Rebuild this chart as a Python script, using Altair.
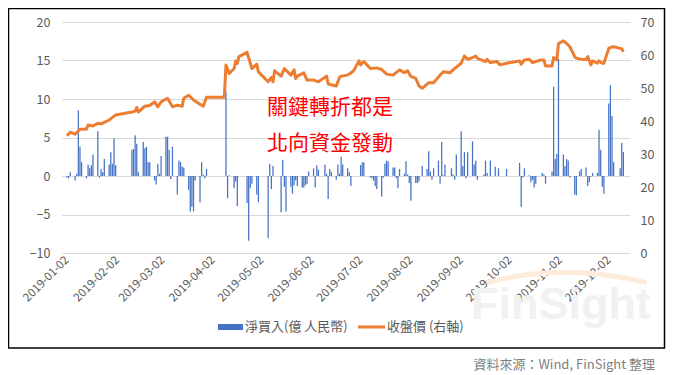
import altair as alt
import pandas as pd

# ---------------- data ----------------
bar_dates = [
    "01-02", "01-03", "01-04", "01-07", "01-08", "01-09", "01-10", "01-11", "01-14", "01-15",
    "01-16", "01-17", "01-18", "01-21", "01-22", "01-23", "01-24", "01-25", "01-28", "01-29",
    "01-30", "01-31", "02-01", "02-11", "02-12", "02-13", "02-14", "02-15", "02-18", "02-19",
    "02-20", "02-21", "02-22", "02-25", "02-26", "02-27", "02-28", "03-01", "03-04", "03-05",
    "03-06", "03-07", "03-08", "03-11", "03-12", "03-13", "03-14", "03-15", "03-18", "03-19",
    "03-20", "03-21", "03-22", "03-25", "03-26", "03-27", "03-28", "03-29",
    "04-10", "04-11", "04-12", "04-15", "04-16", "04-17", "04-23", "04-24", "04-25", "04-26",
    "04-29", "04-30", "05-06", "05-07", "05-08", "05-09", "05-14", "05-15", "05-16", "05-17",
    "05-20", "05-21", "05-22", "05-23", "05-24", "05-27", "05-28", "05-29", "05-30", "05-31",
    "06-03", "06-04", "06-05", "06-06", "06-10", "06-11", "06-12", "06-13", "06-14", "06-17",
    "06-18", "06-19", "06-20", "06-21", "06-24", "06-25", "06-26",
    "07-02", "07-03", "07-04", "07-08", "07-09", "07-10", "07-11", "07-12", "07-15", "07-16",
    "07-17", "07-18", "07-19", "07-22", "07-23", "07-24", "07-25", "07-26", "07-29", "07-30",
    "07-31", "08-01", "08-02", "08-05", "08-06", "08-07", "08-09", "08-12", "08-13", "08-14",
    "08-15", "08-16", "08-19", "08-20", "08-21", "08-22", "08-23", "08-27", "08-28", "08-29",
    "08-30", "09-02", "09-03", "09-04", "09-05", "09-06", "09-09", "09-10", "09-11", "09-12",
    "09-16", "09-17", "09-18", "09-20", "09-23", "09-25", "09-30",
    "10-08", "10-09", "10-10", "10-11", "10-14", "10-15", "10-16", "10-17", "10-18", "10-22",
    "10-23", "10-24", "10-28", "10-29", "10-30", "10-31", "11-01", "11-04", "11-05", "11-06",
    "11-07", "11-08", "11-11", "11-12", "11-14", "11-15", "11-18", "11-19", "11-20", "11-21",
    "11-22", "11-25", "11-26", "11-27", "11-28", "11-29", "12-02", "12-03", "12-04", "12-05",
    "12-09", "12-10", "12-11",
]
bar_values = [
    -0.2, -0.3, 0.5, -0.6, 0.3, 8.5, 3.8, 1.8, -0.3, 1.5,
    1.0, 1.4, 2.8, 5.8, -0.2, 0.9, 0.5, 2.2, 1.5, 3.1,
    1.6, 4.9, 1.4, 3.4, 3.5, 5.3, 4.2, 0.5, 4.4, 3.6,
    3.8, 1.8, 1.8, -0.6, -1.1, 1.6, 0.3, 2.6, 5.1, 5.1,
    3.4, -0.4, 3.8, -2.4, 2.0, 1.8, 1.2, 1.1, -1.8, -4.6,
    -4.0, -4.6, -0.6, -3.4, 1.8, 0.2, -0.3, 0.9,
    11.0, -2.9, 0.1, -1.6, -0.7, -3.9, -3.5, -8.4, -1.6, -1.0,
    -2.4, -3.4, -8.1, 1.6, -1.7, 1.3, -4.7, 2.1, -1.4, -4.6,
    -1.4, -2.3, -1.2, -0.6, -1.3, -1.5, -1.5, -1.2, -1.0, 0.6,
    1.0, -1.5, 1.4, 0.8, 1.5, 0.3, -3.0, 0.9, 0.5, -0.5,
    1.5, 0.3, 2.5, 1.5, 1.0, 0.5, -1.3,
    1.4, 1.8, 1.8, -0.2, -0.3, -0.6, -1.3, -1.7, -2.7, -0.2,
    1.6, 2.0, 1.9, 1.1, 1.1, -0.3, -1.6, 0.9, 0.3, 1.9,
    0.2, -0.9, -3.2, -0.9, -0.9, -0.7, 1.3, 0.9, 3.2, 0.6,
    -0.5, 1.0, 2.0, -1.0, 4.4, 0.1, 1.5, 1.0, 0.2, -0.5,
    2.8, 5.8, 1.3, 3.1, -0.3, 3.1, 4.5, 1.5, 2.0, -0.5,
    0.2, 2.0, 0.4, 2.0, 1.2, 1.0, 0.9,
    1.7, -4.0, -0.2, 1.0, 0.1, -0.8, -0.5, -1.5, -1.0, 0.4,
    0.2, -1.0, 0.6, 11.6, 2.2, 2.9, 15.2, 2.8, 1.3, 2.2,
    2.0, -0.2, -2.4, -2.5, 0.6, 0.9, 1.1, -1.3, -0.8, -0.1,
    0.4, 0.4, 6.0, 3.4, -1.4, -2.3, 9.4, 11.8, 7.8, 1.8,
    1.0, 4.3, 3.1,
]

price_dates = [
    "01-02", "01-04", "01-07", "01-10", "01-14", "01-15", "01-18", "01-21", "01-23", "01-28",
    "01-30", "02-01", "02-11", "02-13", "02-14", "02-15", "02-19", "02-22", "02-25", "02-27",
    "03-01", "03-05", "03-08", "03-11", "03-14", "03-15", "03-18", "03-21", "03-25", "03-27",
    "03-29", "04-09", "04-10", "04-12", "04-15", "04-16", "04-17", "04-18", "04-23", "04-26",
    "04-29", "04-30", "05-06", "05-08", "05-09", "05-10", "05-14", "05-16", "05-20", "05-22",
    "05-23", "05-24", "05-28", "05-30", "06-03", "06-06", "06-11", "06-12", "06-14", "06-17",
    "06-19", "06-20", "06-24", "06-27", "06-28", "07-01", "07-02", "07-04", "07-08", "07-12",
    "07-15", "07-18", "07-22", "07-26", "07-29", "07-31", "08-02", "08-05", "08-07", "08-09",
    "08-13", "08-16", "08-20", "08-22", "08-26", "08-28", "09-02", "09-04", "09-06", "09-09",
    "09-11", "09-12", "09-17", "09-18", "09-20", "09-24", "09-26", "09-30", "10-08", "10-09",
    "10-11", "10-14", "10-16", "10-21", "10-23", "10-24", "10-28", "10-29", "10-31", "11-01",
    "11-04", "11-06", "11-08", "11-11", "11-12", "11-15", "11-18", "11-19", "11-21", "11-22",
    "11-25", "11-26", "11-28", "11-29", "12-02", "12-03", "12-05", "12-09", "12-10", "12-11",
]
price_values = [
    35.5, 36.6, 36.0, 37.5, 37.5, 38.8, 38.5, 39.3, 39.1, 40.3,
    41.1, 41.8, 42.7, 43.0, 44.1, 42.7, 44.5, 44.7, 45.8, 44.3,
    45.8, 46.9, 44.3, 44.8, 44.5, 46.9, 47.8, 46.4, 45.1, 44.5,
    47.2, 47.2, 57.0, 54.4, 55.9, 58.2, 57.4, 59.5, 60.8, 55.9,
    57.2, 54.9, 51.9, 53.2, 51.9, 55.2, 53.6, 55.9, 53.9, 55.5,
    52.9, 53.6, 54.6, 52.4, 52.4, 51.9, 53.6, 51.2, 51.0, 50.6,
    53.2, 53.6, 53.9, 54.9, 55.5, 58.2, 57.0, 58.0, 55.9, 56.1,
    55.6, 54.2, 53.9, 55.5, 54.6, 55.2, 53.5, 52.9, 50.6, 49.9,
    51.6, 51.6, 53.9, 54.9, 54.6, 55.5, 57.5, 59.7, 58.7, 59.2,
    59.7, 59.0, 58.0, 58.7, 57.7, 58.0, 57.0, 57.5, 58.2, 57.2,
    58.5, 58.7, 57.7, 58.5, 58.5, 56.7, 56.7, 59.2, 58.5, 63.5,
    64.3, 63.5, 62.5, 59.5, 59.0, 58.7, 58.6, 59.5, 57.0, 58.2,
    57.5, 58.2, 57.5, 57.5, 62.0, 62.3, 62.5, 62.0, 61.9, 61.0,
]

x_tick_labels = [
    "2019-01-02", "2019-02-02", "2019-03-02", "2019-04-02", "2019-05-02", "2019-06-02",
    "2019-07-02", "2019-08-02", "2019-09-02", "2019-10-02", "2019-11-02", "2019-12-02",
]
left_ticks = [-10, -5, 0, 5, 10, 15, 20]
right_ticks = [0, 10, 20, 30, 40, 50, 60, 70]

series_names = ["淨買入(億 人民幣)", "收盤價 (右軸)"]
annotation_lines = ["關鍵轉折都是", "北向資金發動"]
source_text = "資料來源：Wind, FinSight 整理"
watermark_text = "FinSight"

BLUE = "#4472C4"
ORANGE = "#ED7D31"
GREY = "#595959"
FONT = "Noto Sans CJK TC"

bars_df = pd.DataFrame({"date": ["2019-" + d for d in bar_dates], "net": bar_values})
price_df = pd.DataFrame({"date": ["2019-" + d for d in price_dates], "close": price_values})


def dt(s):
    return alt.DateTime(year=int(s[:4]), month=int(s[5:7]), date=int(s[8:10]), utc=True)


x_enc = alt.X(
    "date:T",
    scale=alt.Scale(type="utc", domain=[dt("2019-01-02"), dt("2019-12-12")]),
    axis=alt.Axis(
        values=[dt(s) for s in x_tick_labels],
        format="%Y-%m-%d",
        labelAngle=-45,
        labelAlign="right",
        labelBaseline="middle",
        labelOverlap=False,
        labelPadding=5,
        labelFontSize=11.5,
        labelColor=GREY,
        labelFont=FONT,
        grid=False,
        ticks=False,
        domain=False,
        title=None,
    ),
)

bars = alt.Chart(bars_df).mark_bar(size=1.25, color=BLUE).encode(
    x=x_enc,
    y=alt.Y(
        "net:Q",
        scale=alt.Scale(domain=[-10, 20], nice=False),
        axis=alt.Axis(
            orient="left", values=left_ticks, grid=True, gridColor="#d9d9d9",
            domain=False, ticks=False, title=None, labelPadding=12,
            labelColor=GREY, labelFontSize=12.5, labelFont=FONT,
        ),
    ),
)

line = alt.Chart(price_df).mark_line(color=ORANGE, strokeWidth=3, strokeJoin="round").encode(
    x=x_enc,
    y=alt.Y(
        "close:Q",
        scale=alt.Scale(domain=[0, 70], nice=False),
        axis=alt.Axis(
            orient="right", values=right_ticks, grid=False,
            domain=False, ticks=False, title=None, labelPadding=10,
            labelColor=GREY, labelFontSize=12.5, labelFont=FONT,
        ),
    ),
)

one = alt.Data(values=[{}])

# faint watermark (arc + word) in the lower right
wm_arc = alt.Chart(one).mark_arc(
    theta=6.03, theta2=6.54, radius=315, radius2=320, color="#fdecdc",
).encode(x=alt.value(504), y=alt.value(568))

watermark = alt.Chart(one).mark_text(
    text=watermark_text, font="Liberation Sans", fontWeight="bold", fontSize=45,
    color="#f1f1f1", align="center", baseline="alphabetic",
).encode(x=alt.value(499), y=alt.value(297))

border = alt.Chart(one).mark_rect(fillOpacity=0, stroke="#000000", strokeWidth=1.5).encode(
    x=alt.value(-53.5), x2=alt.value(602.5), y=alt.value(-13.5), y2=alt.value(326)
)

annot1 = alt.Chart(one).mark_text(
    text=annotation_lines[0], font=FONT, fontSize=21, color="#FF0000", align="left", baseline="middle",
).encode(x=alt.value(205), y=alt.value(86))
annot2 = alt.Chart(one).mark_text(
    text=annotation_lines[1], font=FONT, fontSize=21, color="#FF0000", align="left", baseline="middle",
).encode(x=alt.value(205), y=alt.value(122))

leg_rect = alt.Chart(one).mark_rect(color=BLUE).encode(
    x=alt.value(156), x2=alt.value(181), y=alt.value(302), y2=alt.value(308)
)
leg_text1 = alt.Chart(one).mark_text(
    text=series_names[0], font=FONT, fontSize=13, color=GREY, align="left", baseline="middle",
).encode(x=alt.value(183), y=alt.value(305))
leg_rule = alt.Chart(one).mark_rule(color=ORANGE, strokeWidth=3).encode(
    x=alt.value(296), x2=alt.value(323), y=alt.value(305)
)
leg_text2 = alt.Chart(one).mark_text(
    text=series_names[1], font=FONT, fontSize=13, color=GREY, align="left", baseline="middle",
).encode(x=alt.value(325), y=alt.value(305))

source = alt.Chart(one).mark_text(
    text=source_text, font=FONT, fontSize=13, color="#7f7f7f", align="right", baseline="middle",
).encode(x=alt.value(593), y=alt.value(343))

chart = (
    alt.layer(
        wm_arc, watermark, bars, line, border, annot1, annot2,
        leg_rect, leg_text1, leg_rule, leg_text2, source,
    )
    .resolve_scale(y="independent")
    .properties(
        width=568,
        height=231,
        padding={"left": 54, "top": 14, "right": 37, "bottom": 120},
        autosize=alt.AutoSizeParams(type="none"),
        background="#ffffff",
    )
    .configure_view(stroke=None)
)

chart.save("out.html", embed_options={"renderer": "svg", "actions": False})
